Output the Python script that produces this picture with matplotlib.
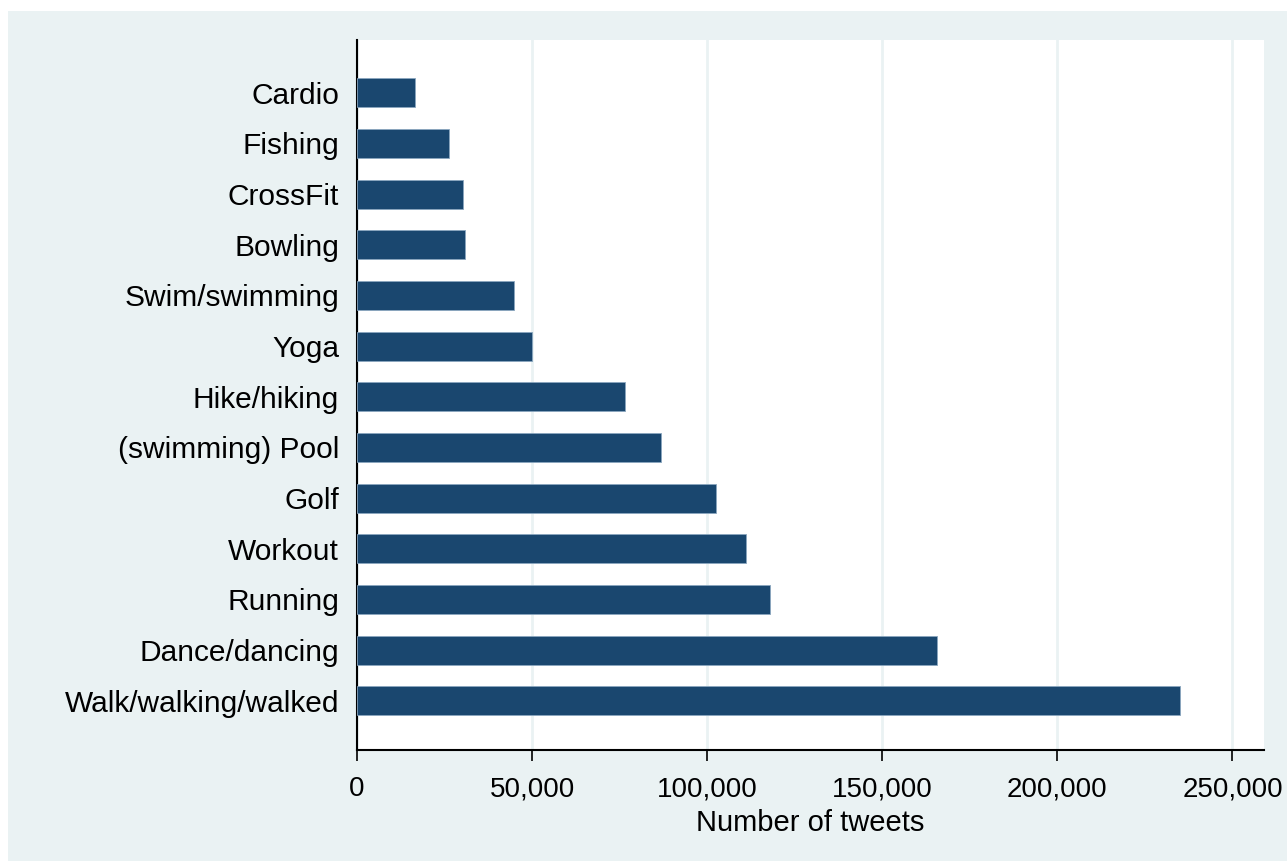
import matplotlib
matplotlib.use("Agg")
import matplotlib.pyplot as plt
from matplotlib.patches import Rectangle
from matplotlib.ticker import FuncFormatter

categories = ["Walk/walking/walked", "Dance/dancing", "Running", "Workout", "Golf",
              "(swimming) Pool", "Hike/hiking", "Yoga", "Swim/swimming", "Bowling",
              "CrossFit", "Fishing", "Cardio"]
tweets = [235000, 165500, 117800, 111000, 102500, 86800, 76500, 50100, 44900,
          30700, 30300, 26200, 16700]
xticks = [0, 50000, 100000, 150000, 200000, 250000]

plt.rcParams['font.family'] = ['Liberation Sans', 'DejaVu Sans']

fig = plt.figure(figsize=(12.87, 8.61), dpi=100)
fig.patch.set_facecolor('white')
bg = '#EAF2F3'
fig.patches.append(Rectangle((8/1287, 0), 1 - 8/1287, 1 - 11/861,
                             transform=fig.transFigure, facecolor=bg,
                             edgecolor='none', zorder=-10))

ax = fig.add_axes([357/1287, 1 - 750/861, (1264 - 357)/1287, (750 - 40)/861])
ax.set_facecolor('white')
pos = list(range(len(categories)))
ax.barh(pos, tweets, height=0.57, color='#1A476F', edgecolor='#8AA6BF',
        linewidth=0.6, zorder=3)
ax.set_yticks(pos)
ax.set_yticklabels(categories, fontsize=21.5)
ax.set_ylim(-0.97, 13.04)
ax.set_xlim(0, 259000)
ax.set_xticks(xticks)
ax.xaxis.set_major_formatter(FuncFormatter(lambda v, p: f"{int(v):,}"))
ax.tick_params(axis='x', labelsize=20, length=8, width=1.2, direction='out', pad=11)
ax.tick_params(axis='y', length=0, pad=13)
ax.grid(axis='x', color=bg, linewidth=2, zorder=0)
ax.set_axisbelow(True)
for s in ['top', 'right']:
    ax.spines[s].set_visible(False)
ax.spines['left'].set_linewidth(1.5)
ax.spines['bottom'].set_linewidth(1.5)
ax.set_xlabel("Number of tweets", fontsize=21, labelpad=5)

fig.savefig("out.png", dpi=100, facecolor=fig.get_facecolor())
